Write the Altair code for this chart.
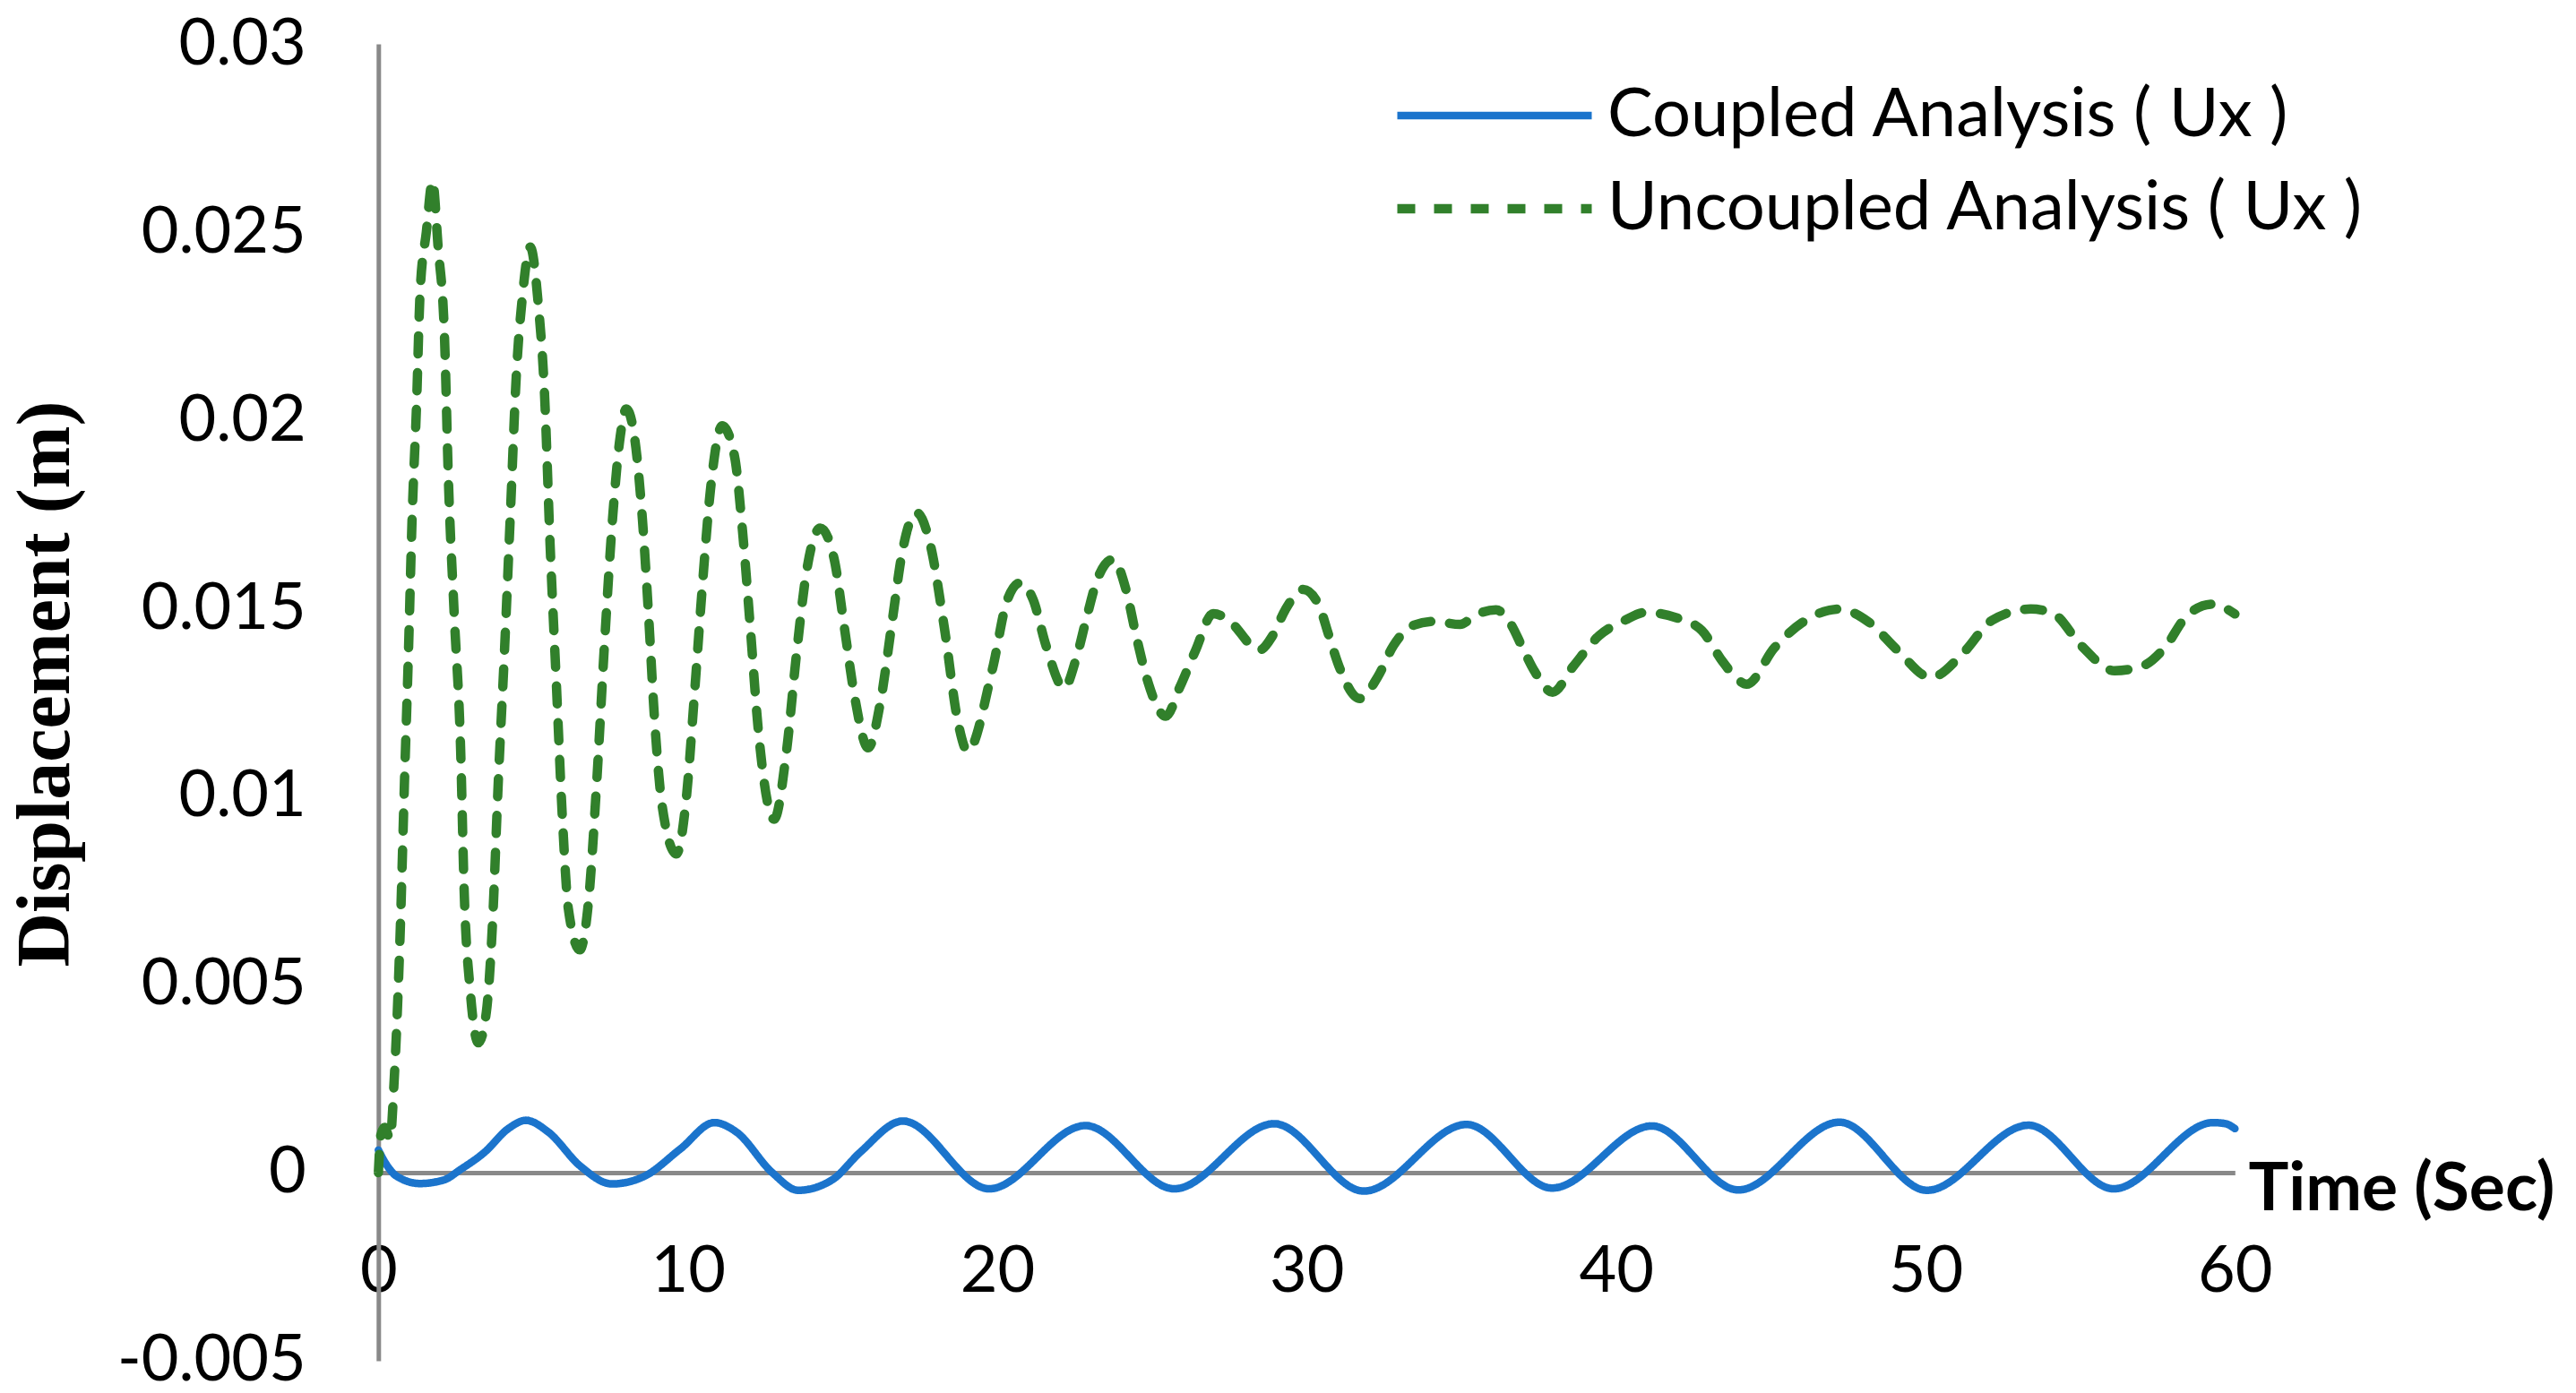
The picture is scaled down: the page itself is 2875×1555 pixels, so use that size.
import altair as alt
import pandas as pd

# ---------------- data ----------------
series_names = ["Coupled Analysis ( Ux )", "Uncoupled Analysis ( Ux )"]

coupled_t = [0.0, 0.27, 0.6, 1.35, 2.13, 2.65, 3.43, 4.2, 4.77, 5.49, 6.53, 7.55,
             8.59, 9.76, 10.86, 11.57, 12.73, 13.57, 14.67, 15.57, 16.95, 19.74,
             22.85, 25.72, 28.95, 31.85, 35.17, 37.93, 41.16, 43.95, 47.22, 50.05,
             53.33, 56.08, 59.3, 59.7, 60.0]
coupled_v = [0.0006, 0.0002, -0.0001, -0.00029, -0.00019, 0.00008, 0.00054, 0.00117,
             0.00139, 0.00108, 0.00017, -0.0003, -0.0001, 0.00063, 0.00133, 0.00108,
             0.0, -0.00047, -0.00019, 0.00054, 0.00137, -0.00043, 0.00125, -0.00043,
             0.0013, -0.00049, 0.00128, -0.00041, 0.00124, -0.00046, 0.00134, -0.00047,
             0.00126, -0.00043, 0.00133, 0.0013, 0.00117]

uncoupled_t = [0.0, 0.08, 0.2, 0.38, 0.51, 0.715, 0.84, 0.976, 1.09, 1.23, 1.35, 1.55,
               1.75, 1.93, 2.14, 2.26, 2.45, 2.66, 2.77, 2.97, 3.23, 3.49, 3.69, 3.87,
               4.08, 4.27, 4.46, 4.65, 4.91, 5.17, 5.37, 5.55, 5.75, 5.95, 6.14, 6.51,
               6.79, 7.05, 7.30, 7.57, 7.82, 8.01, 8.27, 8.53, 8.73, 8.92, 9.17, 9.63,
               9.95, 10.21, 10.47, 10.73, 11.11, 11.51, 11.77, 12.02, 12.28, 12.79,
               13.19, 13.51, 13.83, 14.28, 14.73, 15.06, 15.39, 15.83, 16.22, 16.61,
               16.93, 17.39, 17.84, 18.29, 18.74, 19.04, 19.85, 20.33, 20.75, 21.16,
               21.58, 22.16, 22.57, 22.91, 23.24, 23.74, 24.16, 24.49, 24.82, 25.45,
               25.9, 26.4, 26.98, 27.65, 28.14, 28.48, 28.9, 29.31, 29.89, 30.39,
               30.72, 31.05, 31.72, 32.3, 32.8, 33.46, 34.13, 34.96, 35.46, 36.12,
               36.62, 36.95, 37.37, 37.95, 38.61, 39.45, 40.28, 40.94, 41.94, 42.77,
               43.44, 43.93, 44.22, 45.12, 46.02, 47.2, 48.19, 49.09, 50.17, 51.24,
               52.15, 53.4, 54.13, 55.03, 56.11, 57.0, 57.73, 58.45, 59.26, 60.0]
uncoupled_v = [0.0, 0.0010, 0.0012, 0.0009, 0.00245, 0.00665, 0.01029, 0.01394, 0.0174,
               0.02032, 0.02342, 0.02500, 0.02635, 0.02460, 0.02214, 0.0185, 0.01485,
               0.0112, 0.00756, 0.00482, 0.00345, 0.00427, 0.00665, 0.01029, 0.01394,
               0.01758, 0.02123, 0.02324, 0.02460, 0.02306, 0.02069, 0.01668, 0.01303,
               0.00939, 0.00701, 0.00592, 0.0072, 0.01029, 0.01394, 0.0174, 0.01959,
               0.02030, 0.01959, 0.0174, 0.01485, 0.01212, 0.00975, 0.00847, 0.00994,
               0.01266, 0.01558, 0.01813, 0.01985, 0.01904, 0.01704, 0.01449, 0.01175,
               0.00939, 0.0112, 0.01376, 0.01594, 0.01713, 0.01631, 0.01449, 0.01266,
               0.01129, 0.01248, 0.01468, 0.01649, 0.01754, 0.01668, 0.01449, 0.01194,
               0.0112, 0.0134, 0.01523, 0.01568, 0.01523, 0.014, 0.01288, 0.01372,
               0.01482, 0.01578, 0.0163, 0.0155, 0.01427, 0.01318, 0.01213, 0.0129,
               0.01386, 0.01486, 0.01455, 0.01407, 0.01389, 0.01427, 0.01496, 0.0155,
               0.01509, 0.01427, 0.01345, 0.0126, 0.01318, 0.014, 0.01455, 0.01465,
               0.01457, 0.01482, 0.01496, 0.01455, 0.014, 0.01332, 0.01277, 0.01345,
               0.01427, 0.01468, 0.01489, 0.01475, 0.01441, 0.01359, 0.01311, 0.01298,
               0.01395, 0.01462, 0.01498, 0.01462, 0.01389, 0.01316, 0.01383, 0.01468,
               0.01498, 0.01486, 0.01401, 0.01334, 0.01346, 0.01395, 0.0148, 0.01511,
               0.01485]

x_ticks = [0, 10, 20, 30, 40, 50, 60]
y_ticks = [-0.005, 0.0, 0.005, 0.01, 0.015, 0.02, 0.025, 0.03]

BLUE = "#1B74CC"
GREEN = "#31802B"
GRAY = "#898989"

rows = []
for t, v in zip(coupled_t, coupled_v):
    rows.append({"series": series_names[0], "t": t, "v": v})
for t, v in zip(uncoupled_t, uncoupled_v):
    rows.append({"series": series_names[1], "t": t, "v": v})
df = pd.DataFrame(rows)

legend_props = dict(
    title=None, orient="none", legendX=1131.7, legendY=28,
    symbolType="stroke", symbolSize=47089, symbolStrokeWidth=9.5,
    clipHeight=104, rowPadding=0, padding=0,
    labelFont="Lato", labelFontSize=76, labelColor="black",
    labelOffset=12, labelLimit=2000,
)

chart = alt.Chart(df).mark_line(
    interpolate="monotone", strokeCap="round", strokeJoin="round"
).encode(
    x=alt.X("t:Q",
            scale=alt.Scale(domain=[0, 60], nice=False, zero=False),
            axis=alt.Axis(values=x_ticks, format="d", title="Time (Sec)",
                          offset=-210, domainColor=GRAY, domainWidth=5,
                          ticks=False, tickSize=0, grid=False,
                          labelFont="Lato", labelFontSize=72, labelColor="black",
                          labelPadding=133, labelBaseline="alphabetic",
                          labelFlush=False, labelOverlap=False, labelLimit=400,
                          titleFont="Lato", titleFontSize=75, titleFontWeight="bold",
                          titleColor="black", titleX=2086.7, titleY=41.7,
                          titleAlign="left", titleBaseline="alphabetic", titleAngle=0)),
    y=alt.Y("v:Q",
            scale=alt.Scale(domain=[-0.005, 0.03], nice=False, zero=False),
            axis=alt.Axis(values=y_ticks,
                          labelExpr="datum.value < 0 ? '-' + format(-datum.value, '.3~f') : format(datum.value, '.3~f')",
                          title="Displacement (m)",
                          domainColor=GRAY, domainWidth=5,
                          ticks=False, tickSize=0, grid=False,
                          labelFont="Lato", labelFontSize=72, labelColor="black",
                          labelPadding=81, labelFlush=False, labelOverlap=False,
                          labelLimit=400,
                          titleFont="Liberation Serif", titleFontSize=84,
                          titleFontWeight="bold", titleColor="black",
                          titleX=-345.3, titleY=714, titleAngle=270,
                          titleAlign="center", titleBaseline="alphabetic")),
    color=alt.Color("series:N",
                    scale=alt.Scale(domain=series_names, range=[BLUE, GREEN]),
                    legend=alt.Legend(**legend_props)),
    strokeDash=alt.StrokeDash("series:N",
                              scale=alt.Scale(domain=series_names, range=[[1, 0], [20, 21]]),
                              legend=alt.Legend(**legend_props)),
    strokeWidth=alt.StrokeWidth("series:N",
                                scale=alt.Scale(domain=series_names, range=[8.5, 10.5]),
                                legend=None),
).properties(
    width=2072, height=1470,
    padding={"left": 414.3, "top": 41, "right": 372, "bottom": 26},
    autosize=alt.AutoSizeParams(type="none"),
    background="white",
).configure_view(strokeWidth=0)

chart.save("out.html", embed_options={"renderer": "svg", "actions": False})
